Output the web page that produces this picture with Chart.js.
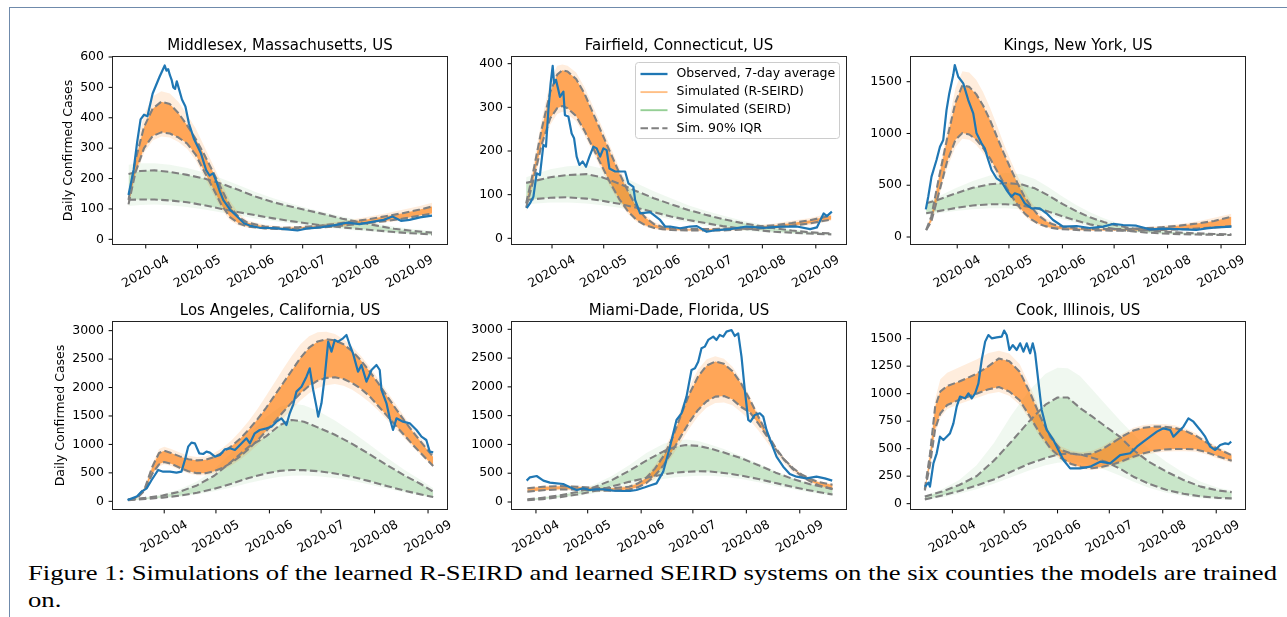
<!DOCTYPE html>
<html><head><meta charset="utf-8">
<script src="https://cdn.jsdelivr.net/npm/chart.js@4.4.1/dist/chart.umd.min.js"></script>
<style>
html,body{margin:0;padding:0;background:#fff;width:1287px;height:617px;overflow:hidden;}
#frame{position:absolute;left:9px;top:7px;right:0;bottom:0;border-top:1.5px solid #6f8aab;border-left:1.5px solid #6f8aab;}
canvas{position:absolute;}
.cap{position:absolute;left:28px;font-family:"Liberation Serif","DejaVu Serif",serif;font-size:21.5px;line-height:21.5px;color:#000;white-space:nowrap;transform-origin:0 50%;}
</style></head><body>
<div id="frame"></div>
<div class="cap" id="cap1" style="top:562.5px">Figure 1: Simulations of the learned R-SEIRD and learned SEIRD systems on the six counties the models are trained</div>
<div class="cap" id="cap2" style="top:589.5px">on.</div>
<script>
// ---------- axis ticks ----------
const monthDays = [91,121,152,182,213,244];
const monthLabels = ['2020-04','2020-05','2020-06','2020-07','2020-08','2020-09'];

// ---------- Middlesex ----------
const mxObsDays = [81,84,86,88,90,92,95,99,102,103,104,105,106,107,108,109,110,112,114,116,119,123,126,128,130,132,134,136,140,144,148,152,157,165,173,179,184,192,200,208,215,223,229,234,239,244,250,257];
const mxObs = [146,230,320,395,410,405,480,535,572,555,560,540,525,500,495,520,500,460,437,382,330,283,228,210,217,190,157,129,97,75,53,44,38,37,33,29,35,39,46,55,50,58,64,75,61,64,72,78];
const mxSimDays = [81,85,90,95,100,105,110,115,120,125,130,135,140,145,150,160,170,180,190,200,210,220,230,240,250,257];
const mxOrangeHi = [130,260,370,430,453,445,415,375,330,278,222,165,108,72,55,42,38,40,44,50,58,66,76,86,98,108];
const mxOrangeLo = [115,220,300,340,352,348,335,315,278,222,168,112,72,52,42,36,33,35,38,42,48,54,60,68,78,85];
const mxOrangeMax = [135,290,410,470,487,480,452,410,365,305,245,185,125,85,62,48,42,44,48,56,64,74,85,97,110,120];
const mxOrangeMin = [108,205,285,325,338,335,320,298,260,205,150,98,62,45,38,32,30,32,35,39,44,49,55,62,70,78];
const mxGreenDays = [81,88,96,105,115,125,135,145,155,165,175,185,195,205,215,225,235,245,257];
const mxGreenHi = [215,225,227,222,212,200,183,162,140,122,108,95,82,68,56,45,35,28,22];
const mxGreenLo = [130,131,131,128,122,112,100,89,79,69,60,52,45,39,34,29,24,20,16];
const mxGreenMax = [245,250,250,245,235,220,200,178,155,135,118,102,88,75,63,52,42,34,28];
const mxGreenMin = [110,113,115,112,106,98,88,78,68,60,52,45,39,33,28,24,20,17,14];

// ---------- Fairfield ----------
const ffObsDays = [76.3,78.2,80.2,82.1,84,86,87.5,88.9,90.2,91.4,92.2,93.3,95.6,97.6,98.5,100.5,102.4,103.8,105.3,106.9,108.8,110.7,112.7,115,116.9,118.9,120.8,122.7,124.3,127.6,130.5,133.4,135.3,138.2,139.2,142.1,147.9,153.7,156.6,159.5,165.3,171,175,180.7,186.6,194.3,204,213.6,223.3,233,240.7,244.6,248.5,250.4,253.3];
const ffObs = [69,80,95,149,145,214,210,294,355,395,355,363,324,336,282,279,240,229,187,168,176,164,187,210,206,187,206,202,160,153,153,153,126,118,88,57,60,42,27,27,23,27,28,15,19,21,27,24,27,27,21,25,57,51,61];
const ffSimDays = [76,80,85,90,94,97,100,105,110,115,120,125,130,135,140,145,150,155,160,170,180,190,200,210,220,230,240,253];
const ffOrangeHi = [80,150,250,335,375,385,382,365,330,285,240,195,150,108,72,48,33,26,23,21,21,22,24,27,30,35,41,52];
const ffOrangeLo = [70,130,215,275,298,303,298,280,245,205,165,125,90,62,42,30,24,21,19,18,18,18,20,22,25,29,34,43];
const ffOrangeMax = [90,165,270,360,395,398,395,380,345,300,255,208,162,118,80,54,38,30,27,25,24,25,27,30,34,40,46,58];
const ffOrangeMin = [62,120,200,260,285,290,285,268,235,195,155,115,82,56,38,27,21,18,17,16,16,16,18,20,22,26,30,40];
const ffGreenDays = [76,90,100,111,120,130,140,150,160,170,180,190,200,210,220,230,240,253];
const ffGreenHi = [127,140,145,147,140,125,108,92,78,65,54,44,36,29,23,18,14,11];
const ffGreenLo = [88,93,94,91,86,79,70,60,50,42,35,28,23,19,15,13,11,9];
const ffGreenMax = [140,158,165,168,160,145,126,108,92,76,63,52,42,34,27,21,16,12];
const ffGreenMin = [78,82,82,80,76,70,61,52,43,36,29,23,18,15,12,10,8,7];

// ---------- Kings ----------
const kgObsDays = [72.8,74.2,76.1,79,81,82.9,84.8,86.4,88.7,89.6,91.6,94.5,97.4,100.3,102.2,105.1,107,109,110.9,113.8,116.7,119.6,122.5,124.4,127.3,130.2,134.1,138.9,142.8,146.6,152.4,160.2,167.9,175.6,181.4,187.2,194.9,202.7,212.3,222,229.7,235.5,241.3,250];
const kgObs = [267,389,583,744,872,937,1226,1387,1564,1661,1548,1484,1323,1194,1001,905,856,744,647,567,534,454,389,422,406,325,277,277,229,164,100,106,87,100,126,116,109,74,80,74,68,84,93,100];
const kgSimDays = [73,76,80,85,90,94,98,102,106,110,114,118,122,126,130,134,138,142,146,150,160,170,180,190,200,210,220,230,240,250];
const kgOrangeHi = [70,200,540,940,1300,1465,1450,1380,1270,1130,970,810,660,520,390,290,210,160,125,105,85,78,76,78,85,95,110,130,155,195];
const kgOrangeLo = [65,150,400,720,940,1005,990,940,860,760,640,520,410,310,230,170,130,105,88,78,68,63,62,62,64,68,74,82,92,105];
const kgOrangeMax = [75,220,580,1020,1440,1600,1590,1520,1400,1250,1080,900,740,590,450,335,245,185,145,120,95,88,85,88,95,108,125,150,185,225];
const kgOrangeMin = [60,130,360,660,870,950,940,890,810,710,595,480,375,280,205,150,115,92,78,70,62,58,57,57,58,61,65,71,80,90];
const kgGreenDays = [73,80,90,100,110,119,128,136,144,152,160,168,176,184,192,200,210,220,230,240,250];
const kgGreenHi = [325,360,420,475,510,522,510,470,400,320,250,190,145,110,85,68,53,43,35,29,25];
const kgGreenLo = [230,250,280,305,316,316,305,282,245,200,160,122,95,72,55,44,34,28,24,21,19];
const kgGreenMax = [340,390,470,540,595,620,605,560,480,390,310,240,180,135,105,82,62,50,41,34,30];
const kgGreenMin = [215,230,250,268,278,278,268,248,212,172,135,102,78,60,46,37,29,23,19,17,15];

// ---------- Los Angeles ----------
const laObsDays = [69.7,75,77.9,80.8,83.7,85.6,87.5,90.4,94.3,98.1,101,103,104.9,106.8,108.8,111.3,113.6,115.5,117.5,120.4,123.3,126.2,129.1,132,134.9,138.7,140.7,143.5,146.4,150.3,153.2,156.1,159,161.9,163.8,165.8,167.7,170.6,173.5,175.4,177.4,179.3,180.3,182.2,184.1,186.1,188,189.9,191.8,194.7,196.7,198.6,200.5,203.4,205.4,208.3,211.2,214.1,216,217,219.9,221.8,223.7,225.7,229.5,233.4,237.3,240.2,243,245,247];
const laObs = [23,82,170,228,375,463,551,521,521,504,521,727,961,1031,1019,844,832,873,855,785,814,914,932,902,990,1107,1019,1195,1254,1283,1312,1400,1459,1342,1547,1700,1928,2015,2191,2338,1957,1664,1488,1722,2191,2806,2631,2836,2806,2865,2924,2748,2601,2279,2396,2103,2308,2396,2308,1957,1722,1459,1254,1459,1400,1371,1254,1137,1078,873,861];
const laSimDays = [70,75,80,84,88,91,95,100,105,110,115,120,125,130,135,140,145,150,155,160,165,170,175,180,185,190,195,200,205,210,215,220,225,230,235,240,247];
const laOrangeHi = [25,60,250,600,850,890,850,790,740,720,730,780,860,970,1100,1260,1440,1640,1860,2080,2300,2520,2700,2810,2850,2830,2760,2640,2480,2290,2080,1860,1640,1430,1230,1040,780];
const laOrangeLo = [22,50,200,480,650,690,660,590,530,495,495,530,590,680,790,920,1070,1230,1400,1570,1740,1900,2030,2120,2170,2180,2150,2080,1980,1850,1680,1510,1340,1170,1000,840,620];
const laOrangeMax = [28,70,280,650,920,960,920,860,800,780,790,850,940,1070,1230,1410,1620,1850,2090,2330,2560,2760,2900,2970,2980,2940,2850,2720,2560,2370,2160,1940,1720,1500,1290,1100,850];
const laOrangeMin = [20,45,180,450,610,650,620,550,490,460,460,490,550,630,730,850,990,1140,1300,1460,1620,1770,1900,1990,2040,2060,2030,1960,1860,1740,1600,1440,1280,1120,960,810,600];
const laGreenDays = [70,80,90,100,110,120,130,140,150,158,165,172,180,190,200,210,220,230,240,247];
const laGreenHi = [30,60,100,170,280,450,700,960,1140,1340,1430,1400,1300,1170,1010,830,640,460,300,170];
const laGreenLo = [20,40,65,100,150,220,310,410,490,535,550,548,530,490,430,355,270,190,120,75];
const laGreenMax = [35,70,125,210,350,560,860,1180,1480,1660,1720,1690,1590,1420,1220,1000,770,560,370,230];
const laGreenMin = [18,32,52,80,120,175,245,320,390,430,450,452,440,410,360,295,225,160,100,60];

// ---------- Miami-Dade ----------
const miObsDays = [85.6,87.5,91.4,95.3,99.1,103,106.8,110.7,114.6,118.4,122.3,126.2,130,135.8,141.6,145.5,149.3,154.2,158,160.9,164.8,168.7,172.5,175.4,178.3,181.2,183.2,185.1,187,188.9,190.9,193.8,195.7,197.6,199.6,201.5,204.4,206.3,208.3,210.2,212.1,214.1,215.4,217.9,220.8,222.8,224.7,227.6,230.5,234.4,238.2,242.1,247.9,253.7,258.5,262.8];
const miObs = [371,429,452,371,336,324,313,255,209,237,209,220,220,197,191,191,209,255,295,324,527,961,1425,1541,1830,2293,2322,2438,2670,2699,2815,2873,2815,2902,2873,2960,2988,2884,2930,2525,1946,1425,1396,1512,1541,1483,1251,1019,788,614,486,440,411,440,411,371];
const miSimDays = [86,95,105,115,125,135,145,150,155,160,165,170,175,180,185,190,195,200,205,210,215,220,225,230,235,240,245,250,255,263];
const miOrangeHi = [240,265,275,265,245,240,265,320,420,580,800,1100,1500,1880,2180,2370,2440,2400,2270,2060,1780,1480,1190,940,740,590,480,400,345,300];
const miOrangeLo = [180,205,220,215,200,195,215,255,330,460,640,880,1140,1390,1600,1750,1830,1840,1780,1650,1560,1360,1140,920,730,570,450,360,290,220];
const miOrangeMax = [250,280,295,285,262,255,285,345,460,640,880,1200,1620,2000,2300,2480,2530,2490,2350,2120,1840,1530,1230,970,770,615,500,420,360,315];
const miOrangeMin = [170,190,205,200,188,182,200,235,300,410,580,800,1040,1280,1490,1640,1720,1730,1680,1560,1420,1240,1040,840,670,520,410,330,270,210];
const miGreenDays = [86,95,105,115,125,135,145,155,165,172,178,185,192,200,210,220,230,240,250,263];
const miGreenHi = [45,75,115,175,260,380,540,720,880,960,990,975,930,860,760,640,510,400,310,230];
const miGreenLo = [30,50,85,130,190,270,350,420,480,510,525,535,530,505,460,400,330,260,200,130];
const miGreenMax = [50,85,135,205,310,450,640,850,1010,1070,1085,1060,1000,920,800,670,540,420,330,250];
const miGreenMin = [25,42,68,105,150,210,275,340,400,430,445,455,455,440,400,345,280,220,165,105];

// ---------- Cook ----------
const ckObsDays = [75.1,77.1,78,80,81.9,83.8,85.8,87.7,89.6,91.6,93.5,95.4,98.4,100.3,102.2,104.2,106.1,108,110,111.9,113.8,116.7,119.6,121,122.5,124.1,126,128.3,130.3,132.2,134.1,136.1,137.6,139,141,142.8,145.7,149.6,152.5,155.4,159.3,165.1,170.9,176.7,182.5,188.3,194.1,198,201.8,205.7,209.6,213.4,217.3,219.2,222.1,225,227.9,230.8,234.7,237.6,240.5,243.4,246.3,249.2,251.2,252.7];
const ckObs = [155,191,155,367,458,609,579,609,639,730,882,973,958,1003,958,1003,1094,1306,1473,1533,1503,1512,1518,1573,1533,1397,1442,1397,1458,1382,1458,1367,1458,1367,1094,852,670,579,488,397,321,321,336,382,367,442,458,518,564,609,655,685,670,609,655,700,776,745,670,609,518,488,533,548,542,564];
const ckSimDays = [75,78,81,84,88,95,105,112,118,124,130,136,142,148,154,160,166,172,178,184,190,196,202,208,214,220,226,232,238,244,253];
const ckOrangeHi = [130,450,880,1020,1070,1110,1180,1250,1320,1295,1200,1010,790,600,490,455,443,455,495,555,615,665,690,700,700,688,662,620,560,505,440];
const ckOrangeLo = [120,350,680,820,897,945,1000,1040,1060,1020,940,791,630,500,415,360,332,322,335,357,390,427,458,480,493,497,497,494,470,435,390];
const ckOrangeMax = [140,500,950,1130,1190,1240,1310,1370,1390,1365,1270,1070,840,640,520,480,468,480,520,580,640,690,715,725,725,712,685,642,582,525,455];
const ckOrangeMin = [110,320,640,780,860,905,960,1000,1015,980,900,755,600,475,395,342,315,306,318,340,372,408,438,460,472,476,476,472,450,416,372];
const ckGreenDays = [75,85,95,105,115,125,135,145,152,158,165,172,180,188,196,205,215,225,235,245,253];
const ckGreenHi = [64,110,170,250,390,560,740,900,965,965,870,793,700,610,488,380,292,215,155,120,105];
const ckGreenLo = [39,75,115,165,220,290,360,415,445,457,448,418,380,320,245,180,126,90,66,53,48];
const ckGreenMax = [75,130,215,350,550,800,1020,1180,1235,1230,1160,1040,900,760,630,500,380,280,200,145,120];
const ckGreenMin = [30,55,90,130,180,240,300,350,372,380,372,345,305,255,200,145,100,70,50,38,33];

// ---------- layout ----------
const PL = 105, PT = 40, PR = 15, PB = 62, BW = 334, BH = 187;
const COL_LEFT = [113, 512, 911], ROW_TOP = [57, 322];
const FONT = '"DejaVu Sans", sans-serif';

const PANELS = [
  {title:'Middlesex, Massachusetts, US', col:0, row:0, xr:[72.0,265.7], yr:[-15.4,600], yticks:[0,100,200,300,400,500,600], ylabel:true,
   d:{obsDays:mxObsDays, obs:mxObs, simDays:mxSimDays, oHi:mxOrangeHi, oLo:mxOrangeLo, oMax:mxOrangeMax, oMin:mxOrangeMin, gDays:mxGreenDays, gHi:mxGreenHi, gLo:mxGreenLo, gMax:mxGreenMax, gMin:mxGreenMin}},
  {title:'Fairfield, Connecticut, US', col:1, row:0, xr:[67.8,261.5], yr:[-13,415.3], yticks:[0,100,200,300,400], legend:true,
   d:{obsDays:ffObsDays, obs:ffObs, simDays:ffSimDays, oHi:ffOrangeHi, oLo:ffOrangeLo, oMax:ffOrangeMax, oMin:ffOrangeMin, gDays:ffGreenDays, gHi:ffGreenHi, gLo:ffGreenLo, gMax:ffGreenMax, gMin:ffGreenMin}},
  {title:'Kings, New York, US', col:2, row:0, xr:[64.2,257.9], yr:[-67.6,1738.6], yticks:[0,500,1000,1500],
   d:{obsDays:kgObsDays, obs:kgObs, simDays:kgSimDays, oHi:kgOrangeHi, oLo:kgOrangeLo, oMax:kgOrangeMax, oMin:kgOrangeMin, gDays:kgGreenDays, gHi:kgGreenHi, gLo:kgGreenLo, gMax:kgGreenMax, gMin:kgGreenMin}},
  {title:'Los Angeles, California, US', col:0, row:1, xr:[61.3,255.0], yr:[-135,3152], yticks:[0,500,1000,1500,2000,2500,3000], ylabel:true,
   d:{obsDays:laObsDays, obs:laObs, simDays:laSimDays, oHi:laOrangeHi, oLo:laOrangeLo, oMax:laOrangeMax, oMin:laOrangeMin, gDays:laGreenDays, gHi:laGreenHi, gLo:laGreenLo, gMax:laGreenMax, gMin:laGreenMin}},
  {title:'Miami-Dade, Florida, US', col:1, row:1, xr:[77.1,270.8], yr:[-121.6,3127], yticks:[0,500,1000,1500,2000,2500,3000],
   d:{obsDays:miObsDays, obs:miObs, simDays:miSimDays, oHi:miOrangeHi, oLo:miOrangeLo, oMax:miOrangeMax, oMin:miOrangeMin, gDays:miGreenDays, gHi:miGreenHi, gLo:miGreenLo, gMax:miGreenMax, gMin:miGreenMin}},
  {title:'Cook, Illinois, US', col:2, row:1, xr:[67.0,260.7], yr:[-48.5,1651.5], yticks:[0,250,500,750,1000,1250,1500],
   d:{obsDays:ckObsDays, obs:ckObs, simDays:ckSimDays, oHi:ckOrangeHi, oLo:ckOrangeLo, oMax:ckOrangeMax, oMin:ckOrangeMin, gDays:ckGreenDays, gHi:ckGreenHi, gLo:ckGreenLo, gMax:ckGreenMax, gMin:ckGreenMin}}
];

const BLUE = '#1f77b4', GRAY = '#808080';
const DASH = [7.5, 3.4];

const decor = {
  id: 'decor',
  afterDraw(chart, args, p) {
    if (!p || !p.title) return;
    const {ctx, chartArea: a, scales: {x, y}} = chart;
    ctx.save();
    ctx.fillStyle = '#000';
    ctx.strokeStyle = '#000';
    ctx.lineWidth = 1;
    ctx.font = '12.5px ' + FONT;
    ctx.textAlign = 'right';
    ctx.textBaseline = 'middle';
    let maxW = 0;
    p.yticks.forEach(v => {
      const py = y.getPixelForValue(v);
      ctx.beginPath(); ctx.moveTo(a.left - 4.4, py); ctx.lineTo(a.left, py); ctx.stroke();
      const s = String(v);
      ctx.fillText(s, a.left - 9, py);
      maxW = Math.max(maxW, ctx.measureText(s).width);
    });
    monthDays.forEach((d, i) => {
      const px = x.getPixelForValue(d);
      if (px < a.left || px > a.right) return;
      ctx.beginPath(); ctx.moveTo(px, a.bottom); ctx.lineTo(px, a.bottom + 4.4); ctx.stroke();
      ctx.save();
      ctx.translate(px, a.bottom + 28);
      ctx.rotate(-Math.PI / 6);
      ctx.textAlign = 'center';
      ctx.textBaseline = 'middle';
      ctx.fillText(monthLabels[i], 0, 0);
      ctx.restore();
    });
    ctx.strokeStyle = '#222';
    ctx.strokeRect(a.left - 0.5, a.top - 0.5, a.right - a.left + 1, a.bottom - a.top + 1);
    ctx.font = '15px ' + FONT;
    ctx.textAlign = 'center';
    ctx.textBaseline = 'alphabetic';
    ctx.fillText(p.title, (a.left + a.right) / 2, a.top - 7.3);
    if (p.ylabel) {
      ctx.save();
      ctx.font = '12.5px ' + FONT;
      ctx.translate(a.left - 9 - maxW - 5, (a.top + a.bottom) / 2);
      ctx.rotate(-Math.PI / 2);
      ctx.textAlign = 'center';
      ctx.textBaseline = 'bottom';
      ctx.fillText('Daily Confirmed Cases', 0, 0);
      ctx.restore();
    }
    if (p.legend) {
      const w = 204, h = 76;
      const lx = a.right - 6.5 - w, ly = a.top + 5.5;
      ctx.beginPath();
      ctx.roundRect(lx, ly, w, h, 3);
      ctx.fillStyle = 'rgba(255,255,255,0.8)';
      ctx.fill();
      ctx.strokeStyle = '#cccccc';
      ctx.lineWidth = 1;
      ctx.stroke();
      const items = [
        {t:'Observed, 7-day average', c:BLUE, w:2.3, dash:[]},
        {t:'Simulated (R-SEIRD)', c:'rgba(255,127,14,0.5)', w:1.9, dash:[]},
        {t:'Simulated (SEIRD)', c:'rgba(44,160,44,0.5)', w:1.9, dash:[]},
        {t:'Sim. 90% IQR', c:GRAY, w:2, dash:DASH}
      ];
      ctx.font = '12.5px ' + FONT;
      ctx.textAlign = 'left';
      ctx.textBaseline = 'middle';
      items.forEach((it, i) => {
        const cy = ly + 11.5 + i * 18.1;
        ctx.beginPath();
        ctx.setLineDash(it.dash);
        ctx.strokeStyle = it.c;
        ctx.lineWidth = it.w;
        ctx.moveTo(lx + 5, cy); ctx.lineTo(lx + 32, cy);
        ctx.stroke();
        ctx.setLineDash([]);
        ctx.fillStyle = '#000';
        ctx.fillText(it.t, lx + 41, cy);
      });
    }
    ctx.restore();
  }
};
Chart.register(decor);

function series(days, vals, style) {
  return Object.assign({
    data: days.map((d, i) => ({x: d, y: vals[i]})),
    pointRadius: 0, pointHoverRadius: 0, tension: 0, fill: false,
    borderJoinStyle: 'round'
  }, style);
}
const NOLINE = {borderColor: 'rgba(0,0,0,0)', borderWidth: 0};

PANELS.forEach((p) => {
  const cv = document.createElement('canvas');
  const W = BW + PL + PR, H = BH + PT + PB;
  cv.width = W; cv.height = H;
  cv.style.width = W + 'px'; cv.style.height = H + 'px';
  cv.style.left = (COL_LEFT[p.col] - PL) + 'px';
  cv.style.top = (ROW_TOP[p.row] - PT) + 'px';
  document.body.appendChild(cv);
  const d = p.d;
  const dashed = {borderColor: GRAY, borderWidth: 2.1, borderDash: DASH};
  const datasets = [
    series(d.obsDays, d.obs, {borderColor: BLUE, borderWidth: 2.2}),
    series(d.simDays, d.oHi, dashed),
    series(d.simDays, d.oLo, dashed),
    series(d.gDays, d.gHi, dashed),
    series(d.gDays, d.gLo, dashed),
    series(d.simDays, d.oHi, Object.assign({fill: '+1', backgroundColor: 'rgba(255,127,14,0.64)'}, NOLINE)),
    series(d.simDays, d.oLo, NOLINE),
    series(d.simDays, d.oMax, Object.assign({fill: '+1', backgroundColor: 'rgba(255,127,14,0.14)'}, NOLINE)),
    series(d.simDays, d.oMin, NOLINE),
    series(d.gDays, d.gHi, Object.assign({fill: '+1', backgroundColor: 'rgba(44,160,44,0.2)'}, NOLINE)),
    series(d.gDays, d.gLo, NOLINE),
    series(d.gDays, d.gMax, Object.assign({fill: '+1', backgroundColor: 'rgba(44,160,44,0.07)'}, NOLINE)),
    series(d.gDays, d.gMin, NOLINE)
  ];
  new Chart(cv, {
    type: 'line',
    data: {datasets},
    options: {
      responsive: false, animation: false, events: [],
      layout: {padding: {left: PL, top: PT, right: PR, bottom: PB}},
      scales: {
        x: {type: 'linear', display: false, min: p.xr[0], max: p.xr[1]},
        y: {type: 'linear', display: false, min: p.yr[0], max: p.yr[1]}
      },
      plugins: {legend: {display: false}, tooltip: {enabled: false}, title: {display: false}, decor: p}
    }
  });
});

// caption fitting: stretch horizontally so the first line spans the same width as the reference
function fitCap() {
  const c1 = document.getElementById('cap1'), c2 = document.getElementById('cap2');
  c1.style.transform = 'none'; c2.style.transform = 'none';
  const w = c1.getBoundingClientRect().width;
  const s = 1249 / w;
  c1.style.transform = 'scaleX(' + s + ')';
  c2.style.transform = 'scaleX(' + s + ')';
}
fitCap();
if (document.fonts && document.fonts.ready) document.fonts.ready.then(fitCap);
</script>
</body></html>
